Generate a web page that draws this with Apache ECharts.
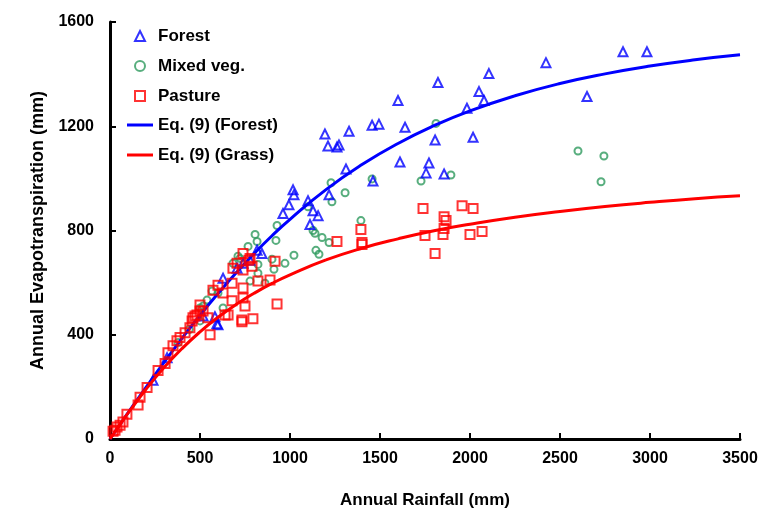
<!DOCTYPE html>
<html>
<head>
<meta charset="utf-8">
<script src="https://cdn.jsdelivr.net/npm/echarts@6.0.0/dist/echarts.min.js"></script>
<style>
  html, body { margin: 0; padding: 0; background: #fff; }
  #chart { width: 777px; height: 514px; }
</style>
</head>
<body>
<div id="chart"></div>
<script>
// observed points: [rainfall, ET] in mm
const forest = [
  [2983, 1486], [2850, 1486], [2422, 1444], [2105, 1402], [1822, 1368], [2050, 1333],
  [2650, 1314], [1600, 1299], [2078, 1299], [1983, 1269], [1456, 1204], [1494, 1208],
  [1639, 1196], [1328, 1181], [1194, 1170], [2017, 1158], [1806, 1147], [1272, 1128],
  [1211, 1124], [1261, 1120], [1611, 1063], [1772, 1059], [1311, 1036], [1756, 1021],
  [1856, 1017], [1461, 990], [1017, 956], [1022, 937], [1217, 937], [1100, 914],
  [994, 899], [1128, 876], [961, 865], [1156, 857], [1111, 823], [844, 712],
  [817, 724], [778, 686], [739, 674], [706, 655], [628, 617], [594, 442],
  [583, 469], [600, 438], [517, 472], [317, 312], [239, 225]
];

const mixedVeg = [
  [1811, 1211], [2600, 1105], [2744, 1086], [2728, 987], [1728, 990], [1894, 1013],
  [1228, 983], [1456, 998], [1306, 945], [1233, 910], [1100, 891], [1394, 838],
  [1128, 800], [1139, 789], [1178, 773], [1217, 754], [1022, 705], [1144, 724],
  [1161, 709], [972, 674], [928, 819], [806, 785], [922, 762], [817, 758],
  [767, 739], [900, 690], [911, 651], [822, 670], [822, 636], [778, 606],
  [722, 693], [711, 701], [683, 674], [861, 598], [567, 568], [539, 533],
  [517, 510], [628, 503], [500, 453], [500, 503], [378, 370], [440, 420], [600, 560]
];

const pasture = [
  [1739, 884], [1956, 895], [2017, 884], [1856, 853], [1867, 838], [1856, 808],
  [1394, 804], [1261, 758], [1400, 754], [1400, 746], [1750, 781], [1850, 785],
  [2000, 785], [2067, 796], [1806, 712],
  [739, 712], [778, 693], [772, 686], [917, 682], [706, 674], [683, 655],
  [739, 648], [789, 663], [889, 610], [822, 606], [739, 579], [678, 598],
  [600, 590], [572, 571], [628, 560], [678, 530], [739, 541], [750, 510],
  [928, 518], [656, 476], [733, 457], [733, 450], [794, 461], [544, 465],
  [517, 491], [500, 514], [483, 476], [461, 465], [556, 400], [639, 476],
  [28, 34], [17, 30], [39, 46], [56, 53], [72, 65], [94, 95], [156, 130],
  [167, 160], [206, 198], [267, 263], [306, 290], [322, 331], [350, 358],
  [372, 377], [389, 389], [417, 408], [444, 427], [456, 453], [472, 472], [500, 491]
];

// Eq. (9) curves
const curveRain = [0, 50, 100, 200, 300, 400, 500, 600, 700, 800, 900, 1000,
  1200, 1400, 1600, 1800, 2000, 2250, 2500, 2750, 3000, 3250, 3500];
const eqForest = [0, 50, 100, 198, 294, 386, 475, 558, 637, 711, 780, 843,
  957, 1053, 1134, 1202, 1259, 1317, 1364, 1401, 1431, 1455, 1474];
const eqGrass = [0, 50, 99, 191, 274, 347, 411, 467, 516, 559, 597, 630,
  687, 732, 768, 799, 824, 851, 873, 892, 908, 922, 933];

const xTicks = [0, 3500, 500];
const yTicks = [0, 1600, 400];

const FONT = "Liberation Sans, Arial, sans-serif";

function pairs(xs, ys) {
  return xs.map(function (x, i) { return [x, ys[i]]; });
}

const chart = echarts.init(document.getElementById("chart"), null, { renderer: "canvas" });

const labelStyle = { color: "#000", fontFamily: FONT, fontWeight: "bold", fontSize: 16 };
const legendText = { color: "#000", fontFamily: FONT, fontWeight: "bold", fontSize: 17, lineHeight: 20 };

const axisCommon = {
  axisLine: { show: true, onZero: false, lineStyle: { color: "#000", width: 3 } },
  axisTick: { show: true, inside: true, length: 6, lineStyle: { color: "#000", width: 2 } },
  splitLine: { show: false },
  nameLocation: "middle",
  nameTextStyle: { color: "#000", fontFamily: FONT, fontWeight: "bold", fontSize: 17 }
};

chart.setOption({
  animation: false,
  backgroundColor: "#fff",
  grid: { left: 110, right: 37, top: 22, bottom: 72, containLabel: false },
  xAxis: Object.assign({}, axisCommon, {
    type: "value",
    min: xTicks[0], max: xTicks[1], interval: xTicks[2],
    name: "Annual Rainfall (mm)",
    nameGap: 53,
    axisLabel: Object.assign({}, labelStyle, { margin: 12, formatter: function (v) { return String(v); } })
  }),
  yAxis: Object.assign({}, axisCommon, {
    type: "value",
    min: yTicks[0], max: yTicks[1], interval: yTicks[2],
    name: "Annual Evapotranspiration (mm)",
    nameGap: 53,
    nameTextStyle: Object.assign({}, axisCommon.nameTextStyle, { fontSize: 18 }),
    axisLabel: Object.assign({}, labelStyle, { margin: 16, formatter: function (v) { return String(v); } })
  }),
  legend: [
    {
      orient: "vertical",
      left: 129, top: 21,
      itemWidth: 10, itemHeight: 10, itemGap: 10,
      textStyle: Object.assign({}, legendText, { padding: [0, 0, 0, 8] }),
      data: [
        { name: "Forest", icon: "triangle" },
        { name: "Mixed veg.", icon: "circle" },
        { name: "Pasture", icon: "rect" }
      ]
    },
    {
      orient: "vertical",
      left: 122, top: 110,
      itemWidth: 26, itemHeight: 3, itemGap: 10,
      textStyle: legendText,
      data: [
        { name: "Eq. (9) (Forest)", icon: "rect" },
        { name: "Eq. (9) (Grass)", icon: "rect" }
      ]
    }
  ],
  series: [
    {
      name: "Eq. (9) (Forest)", type: "line", smooth: true, symbol: "none", z: 3,
      data: pairs(curveRain, eqForest),
      lineStyle: { color: "#0000ff", width: 3 }, itemStyle: { color: "#0000ff" }
    },
    {
      name: "Eq. (9) (Grass)", type: "line", smooth: true, symbol: "none", z: 3,
      data: pairs(curveRain, eqGrass),
      lineStyle: { color: "#ff0000", width: 3 }, itemStyle: { color: "#ff0000" }
    },
    {
      name: "Mixed veg.", type: "scatter", symbol: "circle", symbolSize: 7, z: 2,
      data: mixedVeg,
      itemStyle: { color: "rgba(0,0,0,0)", borderColor: "#2e9a5e", borderWidth: 2 }
    },
    {
      name: "Forest", type: "scatter", symbol: "triangle", symbolSize: 9, z: 2,
      data: forest,
      itemStyle: { color: "rgba(0,0,0,0)", borderColor: "#0000ff", borderWidth: 2 }
    },
    {
      name: "Pasture", type: "scatter", symbol: "rect", symbolSize: 9, z: 4,
      data: pasture,
      itemStyle: { color: "rgba(0,0,0,0)", borderColor: "#ff0000", borderWidth: 2 }
    }
  ]
});
</script>
</body>
</html>
